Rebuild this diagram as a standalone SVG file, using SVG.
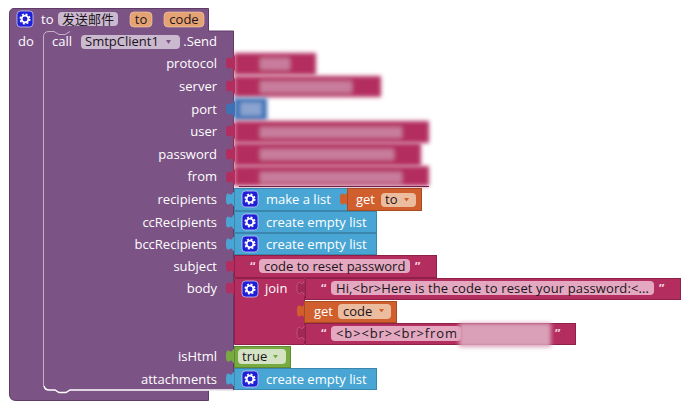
<svg xmlns="http://www.w3.org/2000/svg" xmlns:xlink="http://www.w3.org/1999/xlink" width="690" height="409" viewBox="0 0 690 409">
  <style>
    text { font-family: "Open Sans", "Noto Sans", "Noto Sans CJK SC", sans-serif; font-size: 13px; }
    .w { fill: #ffffff; }
    .d { fill: #1c1420; }
    .purple { fill: #7c5385; stroke: #5f3c68; stroke-width: 1; }
    .pink { fill: #b32d5e; stroke: #8f2149; stroke-width: 1; }
    .blue { fill: #49a6d4; stroke: #3a86ad; stroke-width: 1; }
    .orange { fill: #d05f2d; stroke: #a84b22; stroke-width: 1; }
    .green { fill: #77ab41; stroke: #5f8a33; stroke-width: 1; }
    .pf { fill: #e4a9c0; }
    .of { fill: #ecbc9f; }
    .hf { fill: #e5a272; stroke: #f2cfb0; stroke-width: 0.6; }
    .vf { fill: #cbb9d0; }
    .gf { fill: #d4e3c4; }
    .q { font-size: 12px; font-weight: 700; fill: #f3d6e1; }
    .hidden-field { fill: #c87d9c; }
  </style>
  <defs>
    <filter id="soft" x="-15%" y="-40%" width="130%" height="180%"><feGaussianBlur stdDeviation="2"/></filter>
    <path id="tab" d="M1,-7.500 C-1.500,-7.500 -1,-5 -2.500,-4.500 C-4,-4 -5,-6 -6.500,-5.500 C-8,-4.500 -8,-2 -8,0 C-8,2 -8,4.500 -6.500,5.500 C-5,6 -4,4 -2.500,4.500 C-1,5 -1.500,7.500 1,7.500 Z"/>
    <g id="gear">
      <rect x="-8" y="-8" width="16" height="16" rx="3.500" fill="#1f1fd8" stroke="#c9c9f5" stroke-width="0.8"/>
      <circle r="3.400" fill="none" stroke="#ffffff" stroke-width="1.900"/>
      <circle r="4.800" fill="none" stroke="#ffffff" stroke-width="1.500" stroke-dasharray="2 1.770"/>
    </g>
  </defs>

  <g id="procedure-to-send">
    <path class="purple" d="M14,8.500 H208.500 V31 H233.500 V390 H208.500 V400.500 H16 Q9.500,400.500 9.500,394 V14 Q9.500,8.500 14,8.500 Z"/>
    <use xlink:href="#gear" x="25" y="19"/>
    <text class="w" x="41" y="24">to</text>
    <rect class="vf" x="58" y="12" width="60" height="14" rx="4"/>
    <text class="d" x="88" y="24" text-anchor="middle">发送邮件</text>
    <rect class="hf" x="130" y="12" width="22" height="15" rx="4"/>
    <text class="d" x="141" y="24" text-anchor="middle">to</text>
    <rect class="hf" x="164" y="12" width="40" height="15" rx="4"/>
    <text class="d" x="184" y="24" text-anchor="middle">code</text>
    <text class="w" x="18" y="46">do</text>
  </g>

  <g id="call-send">
    <path d="M43.500,386 V37 Q43.500,31.500 49,31.500 H54 L59,34.500 H65 L70,31.500" fill="none" stroke="#ffffff" stroke-opacity="0.55" stroke-width="1"/>
    <path d="M233,390 H70 L66,392.500 H59 L55,390 H49 Q45,390 44,386" fill="none" stroke="#ffffff" stroke-width="1.400"/>
    <text class="w" x="52" y="46">call</text>
    <rect class="vf" x="81" y="35" width="99" height="14" rx="4"/>
    <text class="d" x="85" y="46">SmtpClient1</text>
    <path d="M166,40 h5 l-2.500,4 z" fill="#7c5385"/>
    <text class="w" x="217" y="46" text-anchor="end">.Send</text>
    <g class="labels" text-anchor="end" fill="#ffffff">
      <text x="217" y="68">protocol</text>
      <text x="217" y="91">server</text>
      <text x="217" y="114">port</text>
      <text x="217" y="136">user</text>
      <text x="217" y="159">password</text>
      <text x="217" y="181">from</text>
      <text x="217" y="204">recipients</text>
      <text x="217" y="227">ccRecipients</text>
      <text x="217" y="249">bccRecipients</text>
      <text x="217" y="271">subject</text>
      <text x="217" y="293">body</text>
      <text x="217" y="361">isHtml</text>
      <text x="217" y="384">attachments</text>
    </g>
  </g>

  <g id="protocol-value">
    <use xlink:href="#tab" x="234" y="63" fill="#b32d5e"/>
    <g filter="url(#soft)">
      <rect x="234" y="53" width="82" height="22" fill="#b32d5e"/>
      <rect class="hidden-field" x="260" y="58" width="30" height="12"/>
    </g>
  </g>
  <g id="server-value">
    <use xlink:href="#tab" x="234" y="86" fill="#b32d5e"/>
    <g filter="url(#soft)">
      <rect x="234" y="76" width="147" height="21" fill="#b32d5e"/>
      <rect class="hidden-field" x="260" y="81" width="92" height="12"/>
    </g>
  </g>
  <g id="port-value">
    <use xlink:href="#tab" x="234" y="109" fill="#3f71b5"/>
    <rect x="234" y="98" width="33" height="22" fill="#3f71b5" filter="url(#soft)"/>
    <rect x="240" y="102" width="22" height="14" fill="#8aa3cf" filter="url(#soft)"/>
  </g>
  <g id="user-value">
    <use xlink:href="#tab" x="234" y="131" fill="#b32d5e"/>
    <g filter="url(#soft)">
      <rect x="234" y="121" width="195" height="22" fill="#b32d5e"/>
      <rect class="hidden-field" x="260" y="127" width="142" height="11"/>
    </g>
  </g>
  <g id="password-value">
    <use xlink:href="#tab" x="234" y="154" fill="#b32d5e"/>
    <g filter="url(#soft)">
      <rect x="234" y="143" width="187" height="23" fill="#b32d5e"/>
      <rect class="hidden-field" x="260" y="149" width="134" height="11"/>
    </g>
  </g>
  <g id="from-value">
    <use xlink:href="#tab" x="234" y="177" fill="#b32d5e"/>
    <g filter="url(#soft)">
      <rect x="234" y="166" width="195" height="20" fill="#b32d5e"/>
      <rect class="hidden-field" x="260" y="172" width="142" height="11"/>
    </g>
    <path d="M239,186.500 H429" stroke="#6e1f4a" stroke-width="1" fill="none"/>
  </g>

  <g id="make-a-list">
    <use xlink:href="#tab" x="234" y="199" fill="#49a6d4"/>
    <rect class="blue" x="234.500" y="188.500" width="113" height="22"/>
    <use xlink:href="#gear" x="250" y="199"/>
    <text class="w" x="266" y="204">make a list</text>
  </g>
  <g id="get-to">
    <use xlink:href="#tab" x="348" y="199" fill="#d05f2d"/>
    <rect class="orange" x="347.500" y="188.500" width="74" height="22"/>
    <text class="w" x="356" y="204">get</text>
    <rect class="of" x="381" y="193" width="35" height="14" rx="4"/>
    <text class="d" x="385" y="204">to</text>
    <path d="M404,198 h5 l-2.500,3.500 z" fill="#d05f2d"/>
  </g>
  <g id="cc-list">
    <use xlink:href="#tab" x="234" y="222" fill="#49a6d4"/>
    <rect class="blue" x="234.500" y="211.500" width="142" height="21"/>
    <use xlink:href="#gear" x="250" y="222"/>
    <text class="w" x="266" y="227">create empty list</text>
  </g>
  <g id="bcc-list">
    <use xlink:href="#tab" x="234" y="244" fill="#49a6d4"/>
    <rect class="blue" x="234.500" y="233.500" width="142" height="21"/>
    <use xlink:href="#gear" x="250" y="244"/>
    <text class="w" x="266" y="249">create empty list</text>
  </g>
  <g id="subject-text">
    <use xlink:href="#tab" x="234" y="266" fill="#b32d5e"/>
    <rect class="pink" x="234.500" y="255.500" width="202" height="22"/>
    <text class="q" x="250" y="271">“</text>
    <rect class="pf" x="259" y="259" width="151" height="14" rx="4"/>
    <text class="d" x="264" y="271">code to reset password</text>
    <text class="q" x="415" y="271">”</text>
  </g>
  <g id="join">
    <use xlink:href="#tab" x="234" y="288" fill="#b32d5e"/>
    <path class="pink" d="M234.500,278.500 H304.500 V344.500 H234.500 Z"/>
    <use xlink:href="#gear" x="250" y="289"/>
    <text class="w" x="265" y="293">join</text>
    <use xlink:href="#tab" x="305" y="288" fill="#a02852" stroke="#d77a9c" stroke-width="0.5"/>
    <use xlink:href="#tab" x="305" y="333" fill="#a02852" stroke="#d77a9c" stroke-width="0.5"/>
  </g>
  <g id="join-text-first">
    <rect class="pink" x="305.500" y="278.500" width="375" height="21"/>
    <text class="q" x="321" y="293">“</text>
    <rect class="pf" x="331" y="281" width="323" height="14" rx="4"/>
    <text class="d" x="336" y="293" textLength="313">Hi,&lt;br&gt;Here is the code to reset your password:&lt;...</text>
    <text class="q" x="659" y="293">”</text>
  </g>
  <g id="get-code">
    <use xlink:href="#tab" x="305" y="311" fill="#d05f2d"/>
    <rect class="orange" x="304.500" y="301.500" width="92" height="21"/>
    <text class="w" x="314" y="316">get</text>
    <rect class="of" x="338" y="304" width="53" height="15" rx="4"/>
    <text class="d" x="343" y="316">code</text>
    <path d="M379,309 h5 l-2.500,3.500 z" fill="#d05f2d"/>
  </g>
  <g id="join-text-last">
    <rect class="pink" x="305.500" y="323.500" width="270" height="21"/>
    <text class="q" x="321" y="338">“</text>
    <rect class="pf" x="331" y="326" width="130" height="15" rx="4"/>
    <text class="d" x="336" y="338" textLength="121">&lt;b&gt;&lt;br&gt;&lt;br&gt;from</text>
    <rect x="459" y="323" width="92" height="24" fill="#d9a0b8" filter="url(#soft)"/>
    <text class="q" x="555" y="338">”</text>
  </g>
  <g id="is-html-true">
    <use xlink:href="#tab" x="234" y="356" fill="#77ab41"/>
    <rect class="green" x="234.500" y="346.500" width="56" height="21"/>
    <rect class="gf" x="238" y="349" width="48" height="15" rx="4"/>
    <text class="d" x="242" y="361">true</text>
    <path d="M273,355 h5 l-2.500,3.500 z" fill="#77ab41"/>
  </g>
  <g id="attachments-list">
    <use xlink:href="#tab" x="234" y="379" fill="#49a6d4"/>
    <rect class="blue" x="234.500" y="368.500" width="142" height="21"/>
    <use xlink:href="#gear" x="250" y="379"/>
    <text class="w" x="266" y="384">create empty list</text>
  </g>
  <g id="connectors"></g>
</svg>
